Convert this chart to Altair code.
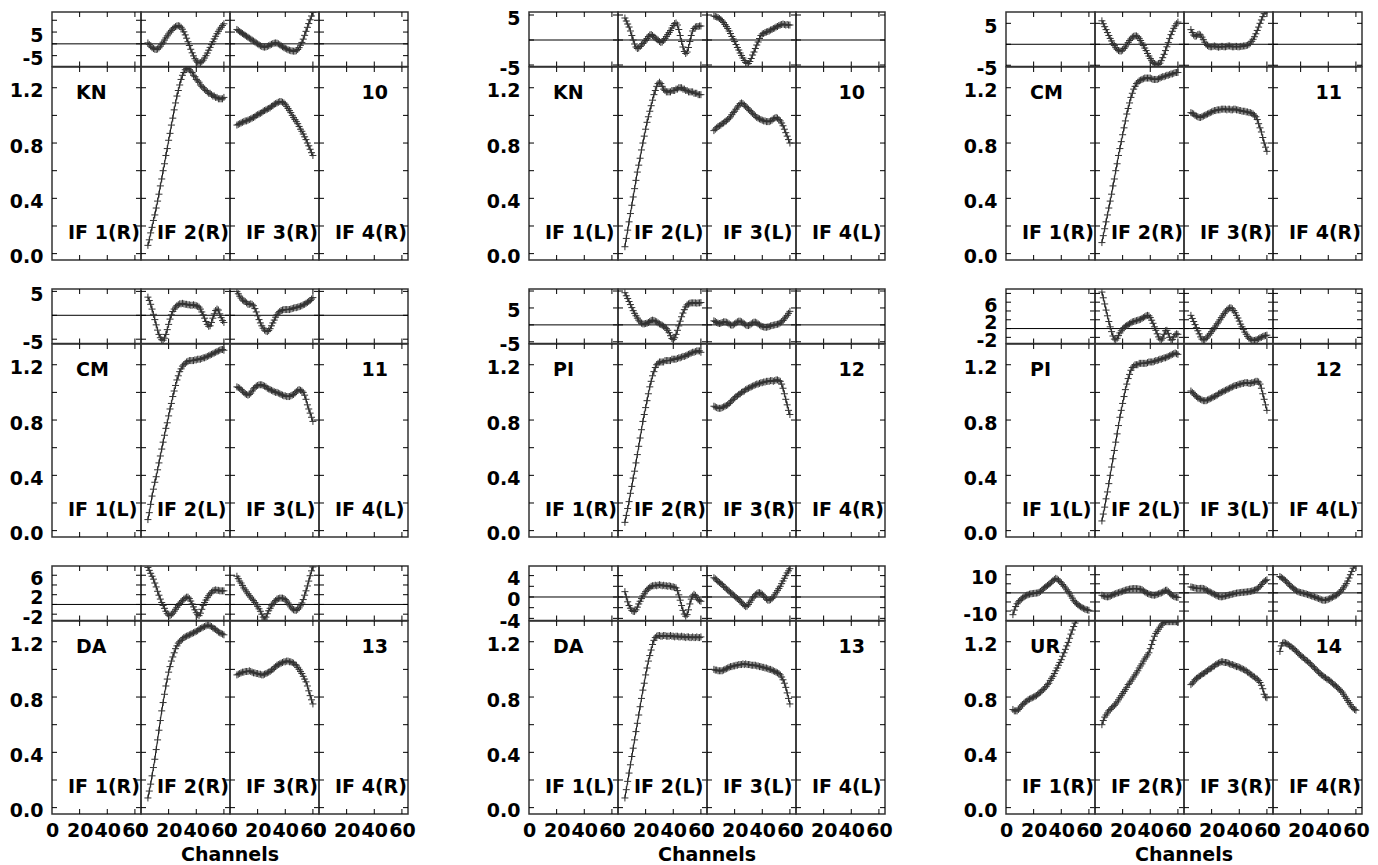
import altair as alt
import pandas as pd

# ---------------- data ----------------
CH = list(range(5, 61))   # channels with data

KN_R_IF2_PH = [0.4, -0.3, -1.0, -1.6, -2.0, -2.3, -2.4, -2.2,
               -1.7, -1.0, -0.2, 0.7, 1.6, 2.5, 3.4, 4.2,
               5.0, 5.7, 6.3, 6.9, 7.3, 7.6, 7.7, 7.5,
               7.0, 6.2, 5.1, 3.8, 2.4, 0.9, -0.7, -2.3,
               -3.8, -5.1, -6.3, -7.2, -7.8, -8.1, -8.0, -7.6,
               -6.9, -6.0, -5.0, -3.9, -2.7, -1.5, -0.3, 0.9,
               2.1, 3.2, 4.3, 5.3, 6.2, 7.0, 7.8, 8.5]
KN_R_IF2_AMP = [.06, .10, .15, .19, .24, .28, .33, .38,
                .43, .49, .54, .60, .65, .71, .76, .82,
                .87, .93, .98, 1.04, 1.09, 1.14, 1.18, 1.22,
                1.26, 1.29, 1.31, 1.33, 1.34, 1.34, 1.33, 1.32,
                1.31, 1.29, 1.28, 1.26, 1.25, 1.24, 1.22, 1.21,
                1.20, 1.19, 1.18, 1.17, 1.16, 1.16, 1.15, 1.14,
                1.14, 1.13, 1.13, 1.12, 1.12, 1.12, 1.12, 1.13]
KN_R_IF3_PH = [6.1, 5.7, 5.2, 4.8, 4.4, 4.0, 3.6, 3.2,
               2.8, 2.4, 2.0, 1.6, 1.2, 0.8, 0.4, 0.0,
               -0.4, -0.8, -1.1, -1.3, -1.4, -1.3, -1.1, -0.8,
               -0.5, -0.2, 0.1, 0.3, 0.4, 0.3, 0.0, -0.4,
               -0.8, -1.2, -1.6, -1.9, -2.2, -2.5, -2.7, -2.9,
               -3.0, -3.1, -3.1, -2.9, -2.4, -1.6, -0.6, 0.6,
               2.0, 3.6, 5.3, 7.0, 8.6, 10.2, 11.8, 13.3]
KN_R_IF3_AMP = [.93, .935, .94, .945, .95, .955, .96, .96,
                .965, .97, .975, .98, .985, .99, 1.0, 1.005,
                1.01, 1.015, 1.02, 1.03, 1.035, 1.04, 1.045, 1.05,
                1.055, 1.065, 1.07, 1.08, 1.085, 1.09, 1.095, 1.10,
                1.10, 1.095, 1.09, 1.08, 1.065, 1.05, 1.035, 1.02,
                1.0, .985, .97, .955, .94, .92, .90, .885,
                .865, .845, .825, .80, .78, .755, .73, .71]

KN_L_IF2_PH = [4.4, 3.8, 3.2, 2.6, 1.8, 0.9, 0.0, -0.8,
               -1.4, -1.7, -1.6, -1.3, -1.0, -0.7, -0.4, -0.1,
               0.3, 0.7, 1.0, 1.1, 0.9, 0.6, 0.4, 0.2,
               0.0, -0.3, -0.5, -0.4, -0.1, 0.3, 0.7, 1.1,
               1.5, 1.9, 2.4, 2.9, 3.3, 3.4, 3.0, 2.1,
               0.9, -0.3, -1.4, -2.3, -2.7, -2.4, -1.5, -0.3,
               0.9, 1.8, 2.3, 2.6, 2.7, 2.7, 2.8, 2.8]
KN_L_IF2_AMP = [.05, .11, .17, .23, .29, .35, .41, .47,
                .53, .59, .64, .69, .75, .80, .85, .90,
                .95, .99, 1.03, 1.07, 1.11, 1.15, 1.18, 1.21,
                1.23, 1.24, 1.23, 1.21, 1.19, 1.18, 1.17, 1.17,
                1.17, 1.17, 1.18, 1.18, 1.18, 1.19, 1.19, 1.20,
                1.20, 1.20, 1.19, 1.19, 1.18, 1.18, 1.17, 1.17,
                1.17, 1.17, 1.16, 1.16, 1.16, 1.15, 1.15, 1.15]
KN_L_IF3_PH = [4.8, 4.7, 4.6, 4.5, 4.3, 4.1, 3.8, 3.5,
               3.1, 2.7, 2.3, 1.8, 1.3, 0.7, 0.2, -0.3,
               -0.9, -1.5, -2.0, -2.6, -3.1, -3.6, -4.1, -4.5,
               -4.7, -4.7, -4.3, -3.7, -3.0, -2.4, -1.7, -1.0,
               -0.4, 0.3, 0.9, 1.2, 1.3, 1.5, 1.6, 1.7,
               1.8, 2.0, 2.1, 2.3, 2.4, 2.6, 2.7, 2.9,
               3.0, 3.1, 3.2, 3.1, 3.0, 3.1, 3.0, 3.0]
KN_L_IF3_AMP = [.89, .90, .91, .92, .925, .93, .94, .945,
                .955, .96, .97, .98, .99, 1.005, 1.02, 1.03,
                1.045, 1.06, 1.07, 1.085, 1.09, 1.085, 1.075, 1.065,
                1.055, 1.045, 1.035, 1.025, 1.015, 1.005, .995, .985,
                .98, .975, .97, .965, .96, .96, .955, .955,
                .955, .96, .965, .975, .98, .985, .98, .97,
                .96, .945, .925, .90, .875, .85, .825, .80]

CM_R_IF2_PH = [5.6, 4.9, 4.2, 3.5, 2.8, 2.1, 1.4, 0.8,
               0.2, -0.3, -0.8, -1.2, -1.5, -1.6, -1.6, -1.4,
               -1.0, -0.6, -0.1, 0.4, 0.9, 1.3, 1.7, 1.9,
               2.0, 2.0, 1.8, 1.4, 0.9, 0.3, -0.3, -0.9,
               -1.5, -2.2, -2.8, -3.4, -3.9, -4.3, -4.6, -4.8,
               -4.9, -4.8, -4.5, -3.9, -3.2, -2.4, -1.5, -0.6,
               0.4, 1.4, 2.3, 3.1, 3.8, 4.4, 4.9, 5.3]
CM_R_IF2_AMP = [.08, .13, .18, .23, .28, .33, .38, .43,
                .49, .54, .60, .65, .71, .76, .81, .86,
                .91, .96, 1.01, 1.05, 1.09, 1.13, 1.16, 1.19,
                1.21, 1.23, 1.24, 1.25, 1.255, 1.26, 1.265, 1.27,
                1.27, 1.27, 1.27, 1.27, 1.265, 1.26, 1.26, 1.26,
                1.26, 1.265, 1.27, 1.275, 1.28, 1.28, 1.285, 1.29,
                1.29, 1.295, 1.30, 1.30, 1.305, 1.31, 1.31, 1.31]
CM_R_IF3_PH = [3.5, 2.8, 2.2, 1.9, 2.0, 2.3, 2.4, 2.2,
               1.7, 1.1, 0.5, 0.0, -0.3, -0.5, -0.6, -0.6,
               -0.5, -0.4, -0.5, -0.6, -0.7, -0.6, -0.5, -0.5,
               -0.6, -0.6, -0.5, -0.4, -0.4, -0.5, -0.6, -0.6,
               -0.5, -0.5, -0.6, -0.6, -0.5, -0.5, -0.4, -0.4,
               -0.3, -0.2, 0.0, 0.3, 0.7, 1.2, 1.8, 2.5,
               3.3, 4.1, 5.0, 5.8, 6.6, 7.3, 7.9, 8.5]
CM_R_IF3_AMP = [1.02, 1.015, 1.01, 1.0, .995, .99, .985, .985,
                .99, .995, 1.0, 1.005, 1.01, 1.015, 1.02, 1.025,
                1.03, 1.035, 1.035, 1.04, 1.04, 1.04, 1.045, 1.045,
                1.045, 1.045, 1.04, 1.045, 1.045, 1.04, 1.04, 1.045,
                1.045, 1.04, 1.04, 1.035, 1.035, 1.03, 1.03, 1.03,
                1.025, 1.025, 1.02, 1.02, 1.015, 1.01, 1.0, .99,
                .97, .94, .91, .88, .84, .80, .77, .74]

CM_L_IF2_PH = [3.8, 3.1, 2.3, 1.3, 0.2, -0.9, -2.0, -3.1,
               -4.0, -4.7, -5.1, -5.2, -4.8, -4.0, -3.0, -1.9,
               -0.8, 0.1, 0.8, 1.3, 1.7, 2.0, 2.2, 2.4,
               2.4, 2.5, 2.4, 2.3, 2.3, 2.2, 2.2, 2.1,
               2.1, 2.2, 2.1, 2.0, 1.9, 1.7, 1.3, 0.7,
               0.1, -0.6, -1.3, -1.9, -2.3, -2.2, -1.5, -0.6,
               0.3, 1.0, 1.3, 1.1, 0.3, -0.5, -1.1, -1.5]
CM_L_IF2_AMP = [.08, .13, .19, .25, .30, .35, .39, .44,
                .49, .54, .59, .64, .69, .74, .78, .83,
                .88, .92, .97, 1.01, 1.05, 1.09, 1.12, 1.15,
                1.17, 1.19, 1.20, 1.21, 1.22, 1.225, 1.23, 1.23,
                1.23, 1.23, 1.235, 1.235, 1.24, 1.24, 1.24, 1.245,
                1.25, 1.25, 1.255, 1.26, 1.265, 1.27, 1.275, 1.28,
                1.285, 1.29, 1.295, 1.30, 1.305, 1.31, 1.31, 1.305]
CM_L_IF3_PH = [5.0, 4.5, 4.0, 3.6, 3.2, 3.0, 2.9, 2.6,
               2.3, 2.3, 2.4, 2.3, 2.0, 1.4, 0.7, -0.1,
               -0.9, -1.6, -2.2, -2.7, -3.1, -3.3, -3.4, -3.2,
               -2.8, -2.2, -1.6, -1.0, -0.4, 0.1, 0.5, 0.8,
               1.0, 1.1, 1.2, 1.2, 1.2, 1.2, 1.2, 1.3,
               1.4, 1.5, 1.6, 1.6, 1.7, 1.8, 1.9, 2.0,
               2.2, 2.3, 2.5, 2.7, 2.9, 3.1, 3.4, 3.7]
CM_L_IF3_AMP = [1.04, 1.035, 1.03, 1.02, 1.01, 1.0, .99, .985,
                .98, .985, .995, 1.01, 1.025, 1.035, 1.045, 1.05,
                1.055, 1.055, 1.055, 1.05, 1.045, 1.04, 1.03, 1.025,
                1.02, 1.015, 1.01, 1.005, 1.0, 1.0, .995, .99,
                .985, .98, .975, .975, .97, .97, .97, .975,
                .98, .985, .995, 1.005, 1.015, 1.02, 1.015, 1.01,
                1.0, .98, .95, .91, .88, .85, .82, .79]

PI_R_IF2_PH = [9.5, 8.6, 7.8, 6.9, 6.0, 5.1, 4.2, 3.4,
               2.7, 2.0, 1.4, 0.9, 0.5, 0.3, 0.3, 0.4,
               0.5, 0.7, 1.0, 1.3, 1.4, 1.3, 1.1, 0.9,
               0.6, 0.3, 0.1, -0.1, -0.4, -0.7, -1.1, -1.6,
               -2.3, -3.2, -4.0, -4.3, -3.8, -2.8, -1.6, -0.3,
               1.1, 2.4, 3.5, 4.5, 5.3, 5.9, 6.2, 6.4,
               6.5, 6.5, 6.5, 6.5, 6.4, 6.5, 6.5, 6.6]
PI_R_IF2_AMP = [.06, .11, .16, .21, .27, .32, .38, .43,
                .49, .55, .61, .67, .73, .79, .84, .89,
                .94, .99, 1.04, 1.08, 1.12, 1.15, 1.18, 1.20,
                1.21, 1.22, 1.22, 1.22, 1.22, 1.23, 1.23, 1.23,
                1.23, 1.23, 1.24, 1.24, 1.24, 1.24, 1.245, 1.25,
                1.25, 1.255, 1.26, 1.26, 1.265, 1.27, 1.275, 1.28,
                1.285, 1.29, 1.29, 1.295, 1.30, 1.30, 1.30, 1.29]
PI_R_IF3_PH = [1.2, 1.0, 0.7, 0.5, 0.4, 0.5, 0.7, 0.9,
               0.9, 0.8, 0.6, 0.3, 0.0, -0.1, 0.0, 0.3,
               0.6, 0.9, 1.1, 1.1, 0.9, 0.6, 0.3, 0.0,
               -0.2, -0.2, 0.0, 0.3, 0.6, 0.8, 0.8, 0.6,
               0.3, 0.0, -0.3, -0.5, -0.6, -0.7, -0.7, -0.6,
               -0.5, -0.3, -0.2, -0.1, 0.0, 0.1, 0.2, 0.3,
               0.6, 0.9, 1.3, 1.8, 2.3, 2.8, 3.4, 4.0]
PI_R_IF3_AMP = [.90, .895, .89, .885, .885, .885, .89, .895,
                .90, .905, .91, .92, .93, .94, .95, .96,
                .97, .975, .985, .99, 1.0, 1.005, 1.01, 1.02,
                1.025, 1.03, 1.035, 1.04, 1.045, 1.05, 1.055, 1.06,
                1.06, 1.065, 1.07, 1.07, 1.075, 1.075, 1.08, 1.08,
                1.08, 1.085, 1.085, 1.08, 1.085, 1.09, 1.09, 1.085,
                1.08, 1.06, 1.03, .99, .95, .91, .87, .84]

PI_L_IF2_PH = [8.3, 7.0, 5.6, 4.2, 2.9, 1.6, 0.4, -0.7,
               -1.7, -2.4, -2.6, -2.2, -1.6, -1.0, -0.5, -0.1,
               0.2, 0.5, 0.7, 0.9, 1.1, 1.3, 1.5, 1.6,
               1.7, 1.8, 1.9, 2.0, 2.1, 2.3, 2.5, 2.7,
               2.9, 3.0, 2.9, 2.5, 1.9, 1.2, 0.4, -0.4,
               -1.2, -1.9, -2.4, -2.6, -2.2, -1.3, -0.5, -0.4,
               -1.1, -2.0, -2.6, -2.5, -1.9, -1.4, -1.2, -1.3]
PI_L_IF2_AMP = [.07, .12, .17, .23, .28, .34, .40, .46,
                .52, .58, .64, .70, .76, .82, .87, .92,
                .97, 1.02, 1.06, 1.10, 1.13, 1.16, 1.18, 1.19,
                1.20, 1.20, 1.20, 1.21, 1.21, 1.21, 1.21, 1.21,
                1.21, 1.215, 1.22, 1.22, 1.22, 1.22, 1.225, 1.23,
                1.23, 1.235, 1.24, 1.24, 1.245, 1.25, 1.25, 1.255,
                1.26, 1.265, 1.27, 1.275, 1.28, 1.285, 1.28, 1.275]
PI_L_IF3_PH = [3.0, 2.3, 1.6, 0.9, 0.2, -0.5, -1.2, -1.9,
               -2.4, -2.6, -2.5, -2.2, -1.9, -1.5, -1.1, -0.7,
               -0.3, 0.2, 0.6, 1.1, 1.5, 2.0, 2.5, 2.9,
               3.4, 3.8, 4.2, 4.5, 4.7, 4.7, 4.5, 4.1,
               3.6, 3.0, 2.4, 1.7, 1.0, 0.4, -0.2, -0.8,
               -1.3, -1.8, -2.2, -2.4, -2.6, -2.7, -2.7, -2.6,
               -2.5, -2.3, -2.1, -2.0, -1.8, -1.7, -1.6, -1.5]
PI_L_IF3_AMP = [1.01, 1.0, .99, .98, .97, .96, .955, .95,
                .945, .94, .94, .94, .945, .95, .955, .96,
                .965, .97, .975, .98, .99, .995, 1.0, 1.005,
                1.01, 1.015, 1.02, 1.025, 1.03, 1.035, 1.04, 1.045,
                1.05, 1.05, 1.055, 1.06, 1.06, 1.065, 1.065, 1.07,
                1.07, 1.07, 1.065, 1.065, 1.07, 1.07, 1.075, 1.08,
                1.08, 1.075, 1.06, 1.03, .99, .95, .91, .87]

DA_R_IF2_PH = [7.6, 7.0, 6.4, 5.8, 5.2, 4.4, 3.6, 2.7,
               1.9, 1.1, 0.4, -0.2, -0.8, -1.4, -1.9, -2.2,
               -2.3, -2.1, -1.8, -1.4, -1.0, -0.6, -0.2, 0.2,
               0.5, 0.8, 1.1, 1.3, 1.5, 1.5, 1.2, 0.7,
               0.1, -0.5, -1.1, -1.7, -2.1, -2.3, -1.8, -1.0,
               -0.2, 0.4, 0.9, 1.4, 1.8, 2.2, 2.5, 2.8,
               2.9, 3.0, 2.9, 2.9, 2.8, 2.8, 2.8, 2.8]
DA_R_IF2_AMP = [.07, .12, .17, .23, .29, .35, .42, .49,
                .56, .63, .70, .76, .82, .88, .93, .98,
                1.02, 1.06, 1.09, 1.12, 1.15, 1.17, 1.19, 1.20,
                1.21, 1.22, 1.23, 1.235, 1.24, 1.245, 1.25, 1.255,
                1.26, 1.265, 1.27, 1.275, 1.28, 1.29, 1.295, 1.30,
                1.305, 1.31, 1.315, 1.32, 1.32, 1.315, 1.31, 1.30,
                1.295, 1.29, 1.28, 1.27, 1.265, 1.26, 1.255, 1.25]
DA_R_IF3_PH = [5.8, 5.3, 4.8, 4.4, 3.9, 3.4, 3.0, 2.6,
               2.2, 1.8, 1.5, 1.1, 0.8, 0.4, 0.0, -0.4,
               -0.9, -1.4, -2.0, -2.6, -3.0, -2.6, -1.9, -1.3,
               -0.8, -0.3, 0.1, 0.5, 0.8, 1.1, 1.2, 1.3,
               1.3, 1.3, 1.2, 1.0, 0.7, 0.3, -0.1, -0.5,
               -0.9, -1.1, -1.2, -1.2, -1.0, -0.7, -0.3, 0.3,
               1.0, 1.9, 2.8, 3.8, 4.8, 5.9, 6.9, 7.7]
DA_R_IF3_AMP = [.96, .965, .97, .975, .98, .98, .985, .985,
                .985, .99, .985, .98, .975, .975, .97, .97,
                .965, .965, .96, .96, .965, .97, .975, .98,
                .985, .995, 1.0, 1.01, 1.02, 1.03, 1.035, 1.04,
                1.045, 1.05, 1.055, 1.055, 1.06, 1.06, 1.055, 1.055,
                1.05, 1.045, 1.035, 1.03, 1.015, 1.0, .985, .97,
                .95, .93, .91, .88, .845, .81, .78, .75]

DA_L_IF2_PH = [1.0, 0.0, -0.9, -1.6, -2.1, -2.5, -2.7, -2.7,
               -2.4, -1.9, -1.3, -0.8, -0.3, 0.2, 0.6, 1.0,
               1.3, 1.6, 1.8, 2.0, 2.1, 2.1, 2.2, 2.1,
               2.2, 2.3, 2.2, 2.1, 2.2, 2.1, 2.1, 2.0,
               2.1, 2.0, 1.9, 1.9, 1.8, 1.7, 1.2, 0.4,
               -0.6, -1.6, -2.5, -3.2, -3.6, -3.3, -2.4, -1.3,
               -0.4, 0.2, 0.5, 0.3, -0.1, -0.5, -0.7, -0.8]
DA_L_IF2_AMP = [.07, .13, .19, .25, .31, .37, .43, .49,
                .55, .61, .67, .73, .79, .85, .90, .96,
                1.01, 1.06, 1.10, 1.14, 1.18, 1.21, 1.23, 1.24,
                1.245, 1.245, 1.24, 1.24, 1.245, 1.245, 1.24, 1.24,
                1.24, 1.245, 1.24, 1.24, 1.235, 1.24, 1.24, 1.235,
                1.235, 1.24, 1.235, 1.235, 1.23, 1.235, 1.235, 1.23,
                1.23, 1.235, 1.23, 1.23, 1.235, 1.23, 1.23, 1.235]
DA_L_IF3_PH = [3.6, 3.4, 3.2, 2.9, 2.7, 2.5, 2.3, 2.0,
               1.8, 1.5, 1.3, 1.1, 0.8, 0.6, 0.4, 0.2,
               -0.1, -0.3, -0.5, -0.8, -1.0, -1.3, -1.6, -1.8,
               -1.7, -1.4, -1.0, -0.6, -0.2, 0.1, 0.4, 0.6,
               0.8, 0.8, 0.7, 0.5, 0.2, -0.1, -0.4, -0.6,
               -0.6, -0.5, -0.3, 0.0, 0.4, 0.8, 1.2, 1.6,
               2.0, 2.5, 3.0, 3.5, 4.0, 4.5, 4.9, 5.3]
DA_L_IF3_AMP = [1.0, .995, .995, .99, .99, .99, .99, .995,
                1.0, 1.005, 1.01, 1.015, 1.02, 1.02, 1.025, 1.025,
                1.03, 1.03, 1.035, 1.035, 1.035, 1.04, 1.035, 1.04,
                1.035, 1.035, 1.035, 1.03, 1.03, 1.03, 1.03, 1.025,
                1.025, 1.02, 1.02, 1.015, 1.015, 1.01, 1.01, 1.005,
                1.0, 1.0, .995, .99, .985, .98, .975, .97,
                .96, .945, .925, .90, .87, .83, .79, .75]

UR_IF1_PH = [-12.0, -9.5, -7.5, -6.0, -5.0, -4.2, -3.4, -2.8,
             -2.2, -1.7, -1.3, -1.0, -0.7, -0.5, -0.4, -0.3,
             -0.2, -0.1, 0.0, 0.3, 0.8, 1.5, 2.2, 2.9,
             3.5, 4.1, 4.7, 5.3, 6.0, 6.7, 7.4, 8.0,
             7.6, 7.0, 6.3, 5.5, 4.6, 3.7, 2.7, 1.7,
             0.7, -0.5, -1.7, -2.9, -4.1, -5.0, -5.8, -6.5,
             -7.1, -7.6, -8.1, -8.5, -8.9, -9.2, -9.4, -9.6]
UR_IF1_AMP = [.71, .70, .70, .70, .71, .72, .735, .745,
              .755, .765, .77, .78, .785, .79, .795, .80,
              .805, .81, .82, .83, .835, .845, .855, .865,
              .875, .89, .90, .92, .935, .95, .97, .99,
              1.01, 1.03, 1.05, 1.07, 1.095, 1.12, 1.145, 1.17,
              1.195, 1.225, 1.255, 1.285, 1.31, 1.335, 1.36, 1.39,
              1.42, 1.45, 1.48, 1.51, 1.54, 1.57, 1.60, 1.63]
UR_IF2_PH = [-1.3, -1.6, -1.9, -2.1, -2.2, -2.1, -1.8, -1.4,
             -1.0, -0.7, -0.4, -0.1, 0.1, 0.4, 0.6, 0.9,
             1.2, 1.5, 1.7, 1.9, 2.1, 2.2, 2.3, 2.4,
             2.4, 2.3, 2.3, 2.1, 2.0, 1.8, 1.2, 0.6,
             0.1, -0.3, -0.6, -0.9, -1.1, -1.2, -1.3, -1.1,
             -0.8, -0.5, -0.2, 0.0, 0.4, 0.9, 1.4, 1.5,
             0.8, -0.1, -1.0, -1.5, -1.9, -2.2, -2.4, -2.5]
UR_IF2_AMP = [.60, .63, .655, .67, .685, .70, .71, .72,
              .73, .74, .75, .765, .78, .795, .81, .825,
              .84, .855, .87, .89, .90, .915, .93, .945,
              .96, .975, .99, 1.01, 1.025, 1.04, 1.06, 1.075,
              1.09, 1.105, 1.12, 1.15, 1.18, 1.21, 1.24, 1.26,
              1.275, 1.29, 1.305, 1.32, 1.33, 1.34, 1.345, 1.345,
              1.345, 1.345, 1.345, 1.345, 1.345, 1.345, 1.345, 1.345]
UR_IF3_PH = [3.3, 3.1, 2.9, 2.7, 2.5, 2.4, 2.4, 2.5,
             2.5, 2.4, 2.1, 1.7, 1.2, 0.8, 0.4, 0.0,
             -0.4, -0.8, -1.2, -1.6, -1.9, -2.1, -2.2, -2.1,
             -1.9, -1.7, -1.5, -1.3, -1.1, -0.9, -0.7, -0.5,
             -0.3, -0.1, 0.0, 0.1, 0.2, 0.3, 0.3, 0.4,
             0.5, 0.6, 0.7, 0.8, 1.0, 1.2, 1.5, 1.8,
             2.2, 2.8, 3.6, 4.6, 5.5, 6.3, 6.8, 7.2]
UR_IF3_AMP = [.89, .90, .91, .925, .935, .94, .95, .955,
              .965, .97, .975, .985, .99, 1.0, 1.005, 1.01,
              1.02, 1.025, 1.035, 1.04, 1.045, 1.05, 1.055, 1.055,
              1.05, 1.05, 1.05, 1.045, 1.04, 1.035, 1.035, 1.03,
              1.025, 1.02, 1.02, 1.015, 1.01, 1.005, 1.0, .995,
              .99, .98, .975, .965, .96, .95, .945, .935,
              .93, .92, .905, .885, .86, .82, .80, .795]
UR_IF4_PH = [9.0, 8.5, 8.0, 7.4, 6.7, 5.9, 5.1, 4.3,
             3.6, 3.0, 2.3, 1.7, 1.1, 0.7, 0.4, 0.2,
             0.0, -0.2, -0.4, -0.6, -0.9, -1.1, -1.4, -1.7,
             -1.9, -2.2, -2.5, -2.8, -3.1, -3.4, -3.8, -4.0,
             -4.1, -4.0, -3.8, -3.5, -3.2, -2.8, -2.4, -2.0,
             -1.6, -1.2, -0.6, 0.1, 0.9, 1.8, 2.8, 3.9,
             5.1, 6.5, 8.2, 10.0, 11.8, 13.6, 15.4, 17.0]
UR_IF4_AMP = [1.13, 1.17, 1.19, 1.195, 1.19, 1.185, 1.18, 1.17,
              1.165, 1.155, 1.15, 1.14, 1.13, 1.12, 1.11, 1.10,
              1.09, 1.085, 1.075, 1.065, 1.06, 1.05, 1.04, 1.03,
              1.02, 1.01, 1.0, .99, .98, .97, .96, .955,
              .945, .94, .93, .925, .92, .91, .90, .89,
              .885, .875, .865, .855, .845, .835, .82, .805,
              .79, .775, .76, .745, .73, .72, .71, .705]

STATIONS = ["KN", "KN", "CM", "CM", "PI", "PI", "DA", "DA", "UR"]
POLS = ["R", "L", "R", "L", "R", "L", "R", "L", "R"]
NUMS = ["10", "10", "11", "11", "12", "12", "13", "13", "14"]
X_TITLE = "Channels"

CURVES = [
    {2: (KN_R_IF2_PH, KN_R_IF2_AMP), 3: (KN_R_IF3_PH, KN_R_IF3_AMP)},
    {2: (KN_L_IF2_PH, KN_L_IF2_AMP), 3: (KN_L_IF3_PH, KN_L_IF3_AMP)},
    {2: (CM_R_IF2_PH, CM_R_IF2_AMP), 3: (CM_R_IF3_PH, CM_R_IF3_AMP)},
    {2: (CM_L_IF2_PH, CM_L_IF2_AMP), 3: (CM_L_IF3_PH, CM_L_IF3_AMP)},
    {2: (PI_R_IF2_PH, PI_R_IF2_AMP), 3: (PI_R_IF3_PH, PI_R_IF3_AMP)},
    {2: (PI_L_IF2_PH, PI_L_IF2_AMP), 3: (PI_L_IF3_PH, PI_L_IF3_AMP)},
    {2: (DA_R_IF2_PH, DA_R_IF2_AMP), 3: (DA_R_IF3_PH, DA_R_IF3_AMP)},
    {2: (DA_L_IF2_PH, DA_L_IF2_AMP), 3: (DA_L_IF3_PH, DA_L_IF3_AMP)},
    {1: (UR_IF1_PH, UR_IF1_AMP), 2: (UR_IF2_PH, UR_IF2_AMP),
     3: (UR_IF3_PH, UR_IF3_AMP), 4: (UR_IF4_PH, UR_IF4_AMP)},
]

AMP_TICKS = [0.0, 0.2, 0.4, 0.6, 0.8, 1.0, 1.2]
AMP_LABELS = [0.0, 0.4, 0.8, 1.2]
CH_TICKS = [20, 40, 60]
CH_LABELS = [0, 20, 40, 60]
PH_TICKS = [[-5, 0, 5, 10], [-5, 0, 5], [-5, 0, 5], [-5, 0, 5], [-5, 0, 5, 10],
            [-2, 0, 2, 4, 6, 8], [-2, 0, 2, 4, 6], [-4, -2, 0, 2, 4], [-10, -5, 0, 5, 10]]
PH_LABELS = [[-5, 5], [-5, 5], [-5, 5], [-5, 5], [-5, 5],
             [-2, 2, 6], [-2, 2, 6], [-4, 0, 4], [-10, 10]]

# ---------------- layout / style ----------------
PH_DOM = [(-9.6, 13.5), (-5.3, 5.6), (-5.3, 7.7), (-5.9, 5.5), (-5.5, 10.6),
          (-3.4, 9.0), (-3.3, 7.9), (-4.4, 5.8), (-15.2, 14.8)]
AMP_DOM = (-0.046, 1.35)
X_DOM = (0, 64.4)
FONT = "DejaVu Sans"
FS = 19
W = 89
HP = 54.5
HA = 193
TICK = 5
BLOCK_GAP = 120.5
ROW_GAP = 28.3


def make_panel(bi, k, kind, show_y, show_x):
    H = HP if kind == "ph" else HA
    dom = PH_DOM[bi] if kind == "ph" else AMP_DOM
    yt = PH_TICKS[bi] if kind == "ph" else AMP_TICKS
    yl = PH_LABELS[bi] if kind == "ph" else AMP_LABELS
    xs = alt.Scale(domain=list(X_DOM), nice=False, zero=False)
    ys = alt.Scale(domain=list(dom), nice=False, zero=False)
    if show_y:
        if kind == "amp":
            expr = "format(datum.value, '.1f')"
        else:
            expr = "(datum.value < 0 ? '-' : '') + format(abs(datum.value), 'd')"
        yaxis = alt.Axis(values=yl, labelExpr=expr, ticks=False, tickSize=0,
                         domain=False, grid=False, title=None, labelFont=FONT,
                         labelFontSize=FS, labelFontWeight="bold", labelColor="black",
                         labelPadding=9, labelOffset=3, labelFlush=False,
                         labelOverlap=False)
    else:
        yaxis = None
    if show_x:
        xaxis = alt.Axis(values=CH_LABELS, format="d", ticks=False, tickSize=0,
                         domain=False, grid=False, title=None, labelFont=FONT,
                         labelFontSize=FS, labelFontWeight="bold", labelColor="black",
                         labelPadding=7, labelFlush=False, labelOverlap=False)
    else:
        xaxis = None

    def X(f):
        return alt.X(f, type="quantitative", scale=xs, axis=xaxis)

    def Y(f):
        return alt.Y(f, type="quantitative", scale=ys, axis=yaxis)

    ytd = pd.DataFrame({"v": yt})
    xtd = pd.DataFrame({"v": CH_TICKS})
    rule = dict(color="black", strokeWidth=1)
    layers = [
        alt.Chart(ytd).mark_rule(**rule).encode(y=Y("v"), x=alt.value(0), x2=alt.value(TICK)),
        alt.Chart(ytd).mark_rule(**rule).encode(y=Y("v"), x=alt.value(W - TICK), x2=alt.value(W)),
        alt.Chart(xtd).mark_rule(**rule).encode(x=X("v"), y=alt.value(0), y2=alt.value(TICK)),
        alt.Chart(xtd).mark_rule(**rule).encode(x=X("v"), y=alt.value(H - TICK), y2=alt.value(H)),
    ]
    if kind == "ph":
        layers.append(alt.Chart(pd.DataFrame({"v": [0]})).mark_rule(color="black", strokeWidth=1)
                      .encode(y=Y("v")))
    cur = CURVES[bi].get(k)
    if cur is not None:
        vals = cur[0] if kind == "ph" else cur[1]
        df = pd.DataFrame({"c": CH, "v": vals})
        layers.append(alt.Chart(df).mark_line(color="black", strokeWidth=1, clip=True)
                      .encode(x=X("c"), y=Y("v")))
        layers.append(alt.Chart(df).mark_point(shape="M-1,0L1,0M0,-1L0,1", size=49,
                                               filled=False, color="#333333", strokeWidth=1,
                                               opacity=1, clip=True)
                      .encode(x=X("c"), y=Y("v")))
    if kind == "amp":
        txt = dict(font=FONT, fontSize=FS, fontWeight="bold", color="black",
                   baseline="alphabetic")
        layers.append(alt.Chart(pd.DataFrame({"t": [f"IF {k}({POLS[bi]})"]}))
                      .mark_text(align="left", **txt)
                      .encode(x=alt.value(16), y=alt.value(H - 21), text="t:N"))
        if k == 1:
            layers.append(alt.Chart(pd.DataFrame({"t": [STATIONS[bi]]}))
                          .mark_text(align="left", **txt)
                          .encode(x=alt.value(24), y=alt.value(32), text="t:N"))
        if k == 4:
            layers.append(alt.Chart(pd.DataFrame({"t": [NUMS[bi]]}))
                          .mark_text(align="right", **txt)
                          .encode(x=alt.value(W - 20), y=alt.value(32), text="t:N"))
        if show_x and k == 2:
            layers.append(alt.Chart(pd.DataFrame({"t": [X_TITLE]}))
                          .mark_text(align="center", **txt)
                          .encode(x=alt.value(W), y=alt.value(H + 47), text="t:N"))
    return alt.layer(*layers).properties(width=W, height=H)


def spacer(w, h):
    return (alt.Chart(pd.DataFrame({"a": [0]})).mark_point(opacity=0)
            .encode(x=alt.value(0), y=alt.value(0))
            .properties(width=w, height=h, view=alt.ViewBackground(stroke="transparent")))


cells = []
for r in range(3):
    for kind in ("ph", "amp"):
        H = HP if kind == "ph" else HA
        for c in range(3):
            bi = r * 3 + c
            for k in range(1, 5):
                cells.append(make_panel(bi, k, kind, k == 1, kind == "amp" and r == 2))
            if c < 2:
                cells.append(spacer(BLOCK_GAP, H))
    if r < 2:
        for col in range(14):
            cells.append(spacer(BLOCK_GAP if col in (4, 9) else W, ROW_GAP))

chart = (alt.concat(*cells, columns=14, spacing=0, bounds="flush", align="each")
         .properties(padding=0, background="white")
         .configure_view(stroke="#333333", strokeWidth=1.5))

chart.save("out.html", embed_options={"renderer": "svg", "actions": False})
